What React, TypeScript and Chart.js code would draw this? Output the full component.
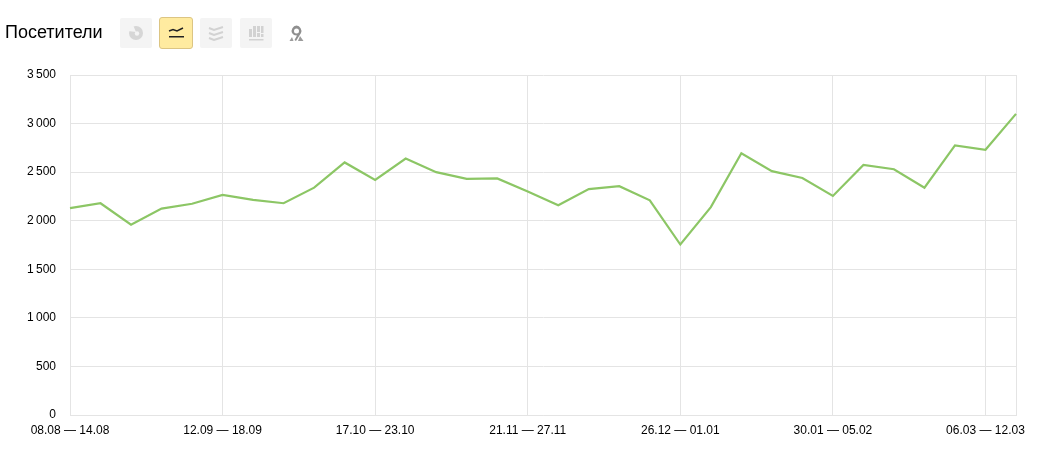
import React, { useEffect, useRef } from "react";
import { Chart, registerables } from "chart.js";

Chart.register(...registerables);

const categories = [
  "08.08 — 14.08", "15.08 — 21.08", "22.08 — 28.08", "29.08 — 04.09", "05.09 — 11.09",
  "12.09 — 18.09", "19.09 — 25.09", "26.09 — 02.10", "03.10 — 09.10", "10.10 — 16.10",
  "17.10 — 23.10", "24.10 — 30.10", "31.10 — 06.11", "07.11 — 13.11", "14.11 — 20.11",
  "21.11 — 27.11", "28.11 — 04.12", "05.12 — 11.12", "12.12 — 18.12", "19.12 — 25.12",
  "26.12 — 01.01", "02.01 — 08.01", "09.01 — 15.01", "16.01 — 22.01", "23.01 — 29.01",
  "30.01 — 05.02", "06.02 — 12.02", "13.02 — 19.02", "20.02 — 26.02", "27.02 — 05.03",
  "06.03 — 12.03", "13.03 — 19.03",
];
const visitors = [
  2130, 2180, 1960, 2125, 2175, 2265, 2215, 2180, 2340, 2600, 2420, 2640, 2500, 2430, 2435, 2300,
  2160, 2325, 2355, 2210, 1755, 2140, 2695, 2510, 2440, 2255, 2575, 2530, 2340, 2775, 2730, 3100,
];
const title = "Посетители";
const GRID = "#e4e4e4";
const FONT = "'Liberation Sans', Arial, sans-serif";

const boxStyle = (left: number, active = false): React.CSSProperties => ({
  position: "absolute",
  left,
  top: active ? 17 : 18,
  width: 32,
  height: 30,
  background: active ? "#ffeba0" : "#f4f4f4",
  border: active ? "1px solid #dcc583" : "none",
  borderRadius: active ? 3 : 2,
  display: "flex",
  alignItems: "center",
  justifyContent: "center",
});

export default function App() {
  const ref = useRef<HTMLCanvasElement>(null);
  useEffect(() => {
    const chart = new Chart(ref.current!, {
      type: "line",
      data: {
        labels: categories,
        datasets: [
          {
            data: visitors,
            borderColor: "#8cc665",
            borderWidth: 2.2,
            pointRadius: 0,
            tension: 0,
            fill: false,
          },
        ],
      },
      options: {
        animation: false,
        responsive: false,
        layout: { padding: { left: 0, right: 34, top: 75, bottom: 0 } },
        plugins: { legend: { display: false }, tooltip: { enabled: false } },
        scales: {
          x: {
            offset: false,
            border: { color: GRID },
            grid: {
              drawTicks: false,
              color: (c: any) => (c.index % 5 === 0 || c.index === categories.length - 1 ? GRID : "rgba(0,0,0,0)"),
            },
            ticks: {
              autoSkip: false,
              maxRotation: 0,
              minRotation: 0,
              padding: 8,
              color: "#000",
              font: { family: FONT, size: 12 },
              callback: (_v: any, i: number) => (i % 5 === 0 ? categories[i] : ""),
            },
            afterFit: (s: any) => {
              s.height = 48;
            },
          },
          y: {
            min: 0,
            max: 3500,
            border: { color: GRID },
            grid: { drawTicks: false, color: GRID },
            ticks: {
              stepSize: 500,
              padding: 14,
              color: "#000",
              font: { family: FONT, size: 12 },
              callback: (v: any) => String(v).replace(/\B(?=(\d{3})+$)/g, "\u2009"),
            },
            afterFit: (s: any) => {
              s.width = 70;
            },
          },
        },
      },
    });
    return () => chart.destroy();
  }, []);

  return (
    <div style={{ position: "absolute", left: 0, top: 0, width: 1050, height: 463, background: "#fff", overflow: "hidden" }}>
      <canvas ref={ref} width={1050} height={463} style={{ position: "absolute", left: 0, top: 0, display: "block" }} />
      <div style={{ position: "absolute", left: 5, top: 22, font: `18px ${FONT}`, color: "#000", lineHeight: "20px" }}>{title}</div>
      <div style={boxStyle(120)}>
        <svg width="16" height="16" viewBox="0 0 16 16">
          <circle cx="8" cy="8" r="7" fill="#d6d6d6" />
          <path d="M5 0 L8 7 L0 6 L0 0 Z" fill="#f4f4f4" />
          <circle cx="9" cy="8.5" r="2.2" fill="#f4f4f4" />
        </svg>
      </div>
      <div style={boxStyle(159, true)}>
        <svg width="16" height="14" viewBox="0 0 16 14">
          <path d="M1 5 L5 3.5 L9 5 L15 2" fill="none" stroke="#222" strokeWidth="1.5" />
          <rect x="1" y="10" width="15" height="1.5" fill="#222" />
        </svg>
      </div>
      <div style={boxStyle(200)}>
        <svg width="16" height="15" viewBox="0 0 16 15" fill="none" stroke="#d2d2d2" strokeWidth="2">
          <path d="M1 2 L6 4 L15 1" />
          <path d="M1 7 L6 9 L15 6" />
          <path d="M1 12 L6 14 L15 11" />
        </svg>
      </div>
      <div style={boxStyle(240)}>
        <svg width="16" height="16" viewBox="0 0 16 16" fill="#d2d2d2">
          <rect x="1" y="4" width="3" height="8" />
          <rect x="5" y="1" width="3" height="11" />
          <rect x="9" y="1" width="3" height="6" />
          <rect x="9" y="8" width="3" height="4" />
          <rect x="13" y="1" width="2.5" height="7" />
          <rect x="13" y="9" width="2.5" height="3" />
          <rect x="1" y="14" width="14.5" height="1.5" />
        </svg>
      </div>
      <svg style={{ position: "absolute", left: 289, top: 25 }} width="15" height="17" viewBox="0 0 15 17">
        <path d="M7.5 0.5 A5.5 5.5 0 0 1 12 8 L7 16 L5.5 15 L8 10.5 A5.5 5.5 0 0 1 3 8 A5.5 5.5 0 0 1 7.5 0.5 Z M7.5 3.5 A2.5 2.5 0 1 0 7.5 8.5 A2.5 2.5 0 1 0 7.5 3.5 Z" fill="#8f8f8f" fillRule="evenodd" />
        <path d="M3 12 L0.5 16 L4.5 16 Z M11 11 L9 16 L14.5 16 Z" fill="#9c9c9c" />
      </svg>
    </div>
  );
}
